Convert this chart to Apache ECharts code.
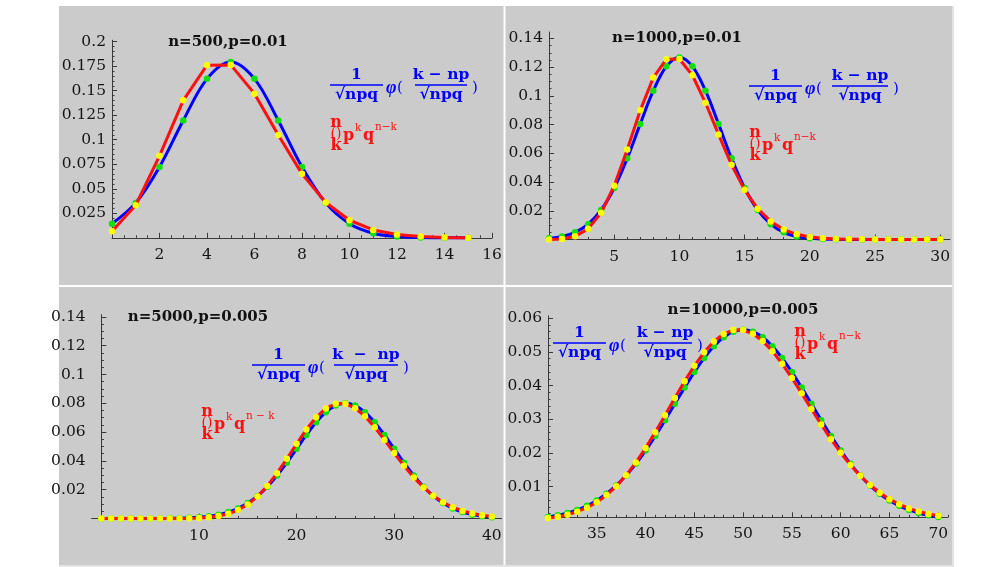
<!DOCTYPE html>
<html><head><meta charset="utf-8">
<script src="https://cdn.jsdelivr.net/npm/echarts@6/dist/echarts.min.js"></script>
<style>html,body{margin:0;padding:0;background:#fff}#c{width:1008px;height:567px}</style>
</head><body><div id="c"></div>
<script>
// ---------- DATA ----------
const titles = ['n=500,p=0.01', 'n=1000,p=0.01', 'n=5000,p=0.005', 'n=10000,p=0.005'];

// Panel 1: n=500, p=0.01
const k1 = [0,1,2,3,4,5,6,7,8,9,10,11,12,13,14,15];
const normal1 = [0.0144,0.0356,0.0723,0.1197,0.1621,0.1793,0.1621,0.1197,0.0723,0.0356,0.0144,0.0047,0.0013,0.0003,0.0001,0.0000];
const binom1 = [0.0066,0.0332,0.0836,0.1402,0.1760,0.1763,0.1470,0.1048,0.0652,0.0360,0.0179,0.0080,0.0033,0.0013,0.0004,0.0001];
const xTicks1 = [2,4,6,8,10,12,14,16];
const yTicks1 = [0.025,0.05,0.075,0.1,0.125,0.15,0.175,0.2];

// Panel 2: n=1000, p=0.01
const k2 = [0,1,2,3,4,5,6,7,8,9,10,11,12,13,14,15,16,17,18,19,20,21,22,23,24,25,26,27,28,29,30];
const normal2 = [0.0008,0.0021,0.0050,0.0107,0.0206,0.0359,0.0565,0.0805,0.1036,0.1206,0.1268,0.1206,0.1036,0.0805,0.0565,0.0359,0.0206,0.0107,0.0050,0.0021,0.0008,0.0003,0.0001,0,0,0,0,0,0,0,0];
const binom2 = [0.0000,0.0004,0.0022,0.0074,0.0186,0.0375,0.0627,0.0900,0.1128,0.1256,0.1257,0.1143,0.0952,0.0731,0.0520,0.0346,0.0215,0.0126,0.0069,0.0036,0.0018,0.0008,0.0004,0.0002,0.0001,0,0,0,0,0,0];
const xTicks2 = [5,10,15,20,25,30];
const yTicks2 = [0.02,0.04,0.06,0.08,0.1,0.12,0.14];

// Panel 3: n=5000, p=0.005
const k3 = [0,1,2,3,4,5,6,7,8,9,10,11,12,13,14,15,16,17,18,19,20,21,22,23,24,25,26,27,28,29,30,31,32,33,34,35,36,37,38,39,40];
const normal3 = [0,0,0,0.0000047,0.000011,0.000026,0.000056,0.000119,0.00024,0.000466,0.000869,0.001557,0.002678,0.004427,0.007027,0.01072,0.01570,0.02210,0.02987,0.03879,0.04839,0.05799,0.06675,0.07381,0.07840,0.07999,0.07840,0.07381,0.06675,0.05799,0.04839,0.03879,0.02987,0.02210,0.01570,0.01072,0.007027,0.004427,0.002678,0.001557,0.000869];
const binom3 = [0,0,0,0,0,0,0.0000045,0.0000163,0.0000511,0.000142,0.000357,0.000814,0.001701,0.003279,0.005869,0.009804,0.01535,0.02261,0.03146,0.04145,0.05187,0.06181,0.07030,0.07646,0.07968,0.0797,0.07663,0.07094,0.06332,0.05455,0.04542,0.03659,0.02855,0.02160,0.01586,0.01131,0.007836,0.005283,0.003467,0.002217,0.001382];
const xTicks3 = [10,20,30,40];
const yTicks3 = [0.02,0.04,0.06,0.08,0.1,0.12,0.14];

// Panel 4: n=10000, p=0.005
const k4 = [30,31,32,33,34,35,36,37,38,39,40,41,42,43,44,45,46,47,48,49,50,51,52,53,54,55,56,57,58,59,60,61,62,63,64,65,66,67,68,69,70];
const normal4 = [0.001015,0.001502,0.002180,0.003098,0.004316,0.005895,0.007888,0.010348,0.013305,0.016765,0.020703,0.025060,0.029728,0.034566,0.039391,0.043993,0.048160,0.051670,0.054333,0.055995,0.056561,0.055995,0.054333,0.051670,0.048160,0.043993,0.039391,0.034566,0.029728,0.025060,0.020703,0.016765,0.013305,0.010348,0.007888,0.005895,0.004316,0.003098,0.002180,0.001502,0.001015];
const binom4 = [0.000665,0.001074,0.001682,0.002553,0.003761,0.005382,0.007486,0.01013,0.01335,0.01713,0.02144,0.02617,0.03118,0.03628,0.04126,0.04587,0.04988,0.05309,0.05532,0.05646,0.05647,0.05536,0.05323,0.05021,0.04647,0.04223,0.03769,0.03304,0.02846,0.02410,0.02007,0.01643,0.01324,0.01049,0.008186,0.006288,0.004757,0.003544,0.002602,0.001882,0.001342];
const xTicks4 = [35,40,45,50,55,60,65,70];
const yTicks4 = [0.01,0.02,0.03,0.04,0.05,0.06];

// ---------- STYLE / LAYOUT ----------
const FONT = "'DejaVu Serif','Liberation Serif',serif";
const BLUE = '#0000ff', RED = '#ff1010', GREEN = '#10e010', YELLOW = '#ffff00';
const GRAY = '#cbcbcb', AXIS = '#3a3a3a';

function steps(a, b, s) { const r = []; for (let i = 0; a + i * s <= b + 1e-9; i++) r.push(+(a + i * s).toFixed(6)); return r; }

const panels = [
  { k: k1, normal: normal1, binom: binom1, xr: [0, 16], yr: [0, 0.2015], xt: xTicks1, yt: yTicks1, xm: 0.5, ym: 0.005,
    grid: { left: 112, top: 40.2, width: 380, height: 197.6 }, tpos: [228, 42],
    blue: { x: 330, y: 85, dx2: 85, w2: 52, num: 'k − np' }, red: { x: 330, y: 136, sup: 'n−k' } },
  { k: k2, normal: normal2, binom: binom2, xr: [0, 30.75], yr: [0, 0.1445], xt: xTicks2, yt: yTicks2, xm: 1, ym: 0.005,
    grid: { left: 549, top: 32, width: 401, height: 207.5 }, tpos: [677, 38],
    blue: { x: 749, y: 86, dx2: 83, w2: 56, num: 'k − np' }, red: { x: 749, y: 146, sup: 'n−k' } },
  { k: k3, normal: normal3, binom: binom3, xr: [-1, 41], yr: [0, 0.1415], xt: xTicks3, yt: yTicks3, xm: 2, ym: 0.005,
    grid: { left: 91.6, top: 314.7, width: 410, height: 203.8 }, tpos: [198, 317],
    blue: { x: 252, y: 365, dx2: 82, w2: 64, num: 'k  −  np' }, red: { x: 201, y: 425, sup: 'n − k' } },
  { k: k4, normal: normal4, binom: binom4, xr: [30, 71], yr: [0.0009, 0.0607], xt: xTicks4, yt: yTicks4, xm: 1, ym: 0.002,
    grid: { left: 548, top: 315.8, width: 400, height: 201.5 }, tpos: [743, 310],
    blue: { x: 553, y: 343, dx2: 85, w2: 54, num: 'k − np' }, red: { x: 794, y: 345, sup: 'n−k' } }
];

function txt(x, y, text, font, fill, align, valign, z) {
  return { type: 'text', x: x, y: y, z: z || 20,
    style: { text: text, font: font, fill: fill, align: align, verticalAlign: valign, textAlign: align, textVerticalAlign: valign } };
}
function blueFormula(f) {
  const w1 = 53, x = f.x, y = f.y, F = `bold 15.5px ${FONT}`;
  const x2 = x + f.dx2;
  return [
    { type: 'line', z: 20, shape: { x1: x, y1: y, x2: x + w1, y2: y }, style: { stroke: BLUE, lineWidth: 1.6 } },
    txt(x + w1 / 2, y - 2, '1', F, BLUE, 'center', 'bottom'),
    txt(x + w1 / 2, y + 2, '√npq', F, BLUE, 'center', 'top'),
    txt(x + w1 + 3, y + 3, 'φ', `italic bold 18px 'Liberation Serif',serif`, BLUE, 'left', 'middle'),
    txt(x + w1 + 14, y + 3, '(', `15px ${FONT}`, BLUE, 'left', 'middle'),
    { type: 'line', z: 20, shape: { x1: x2, y1: y, x2: x2 + f.w2, y2: y }, style: { stroke: BLUE, lineWidth: 1.6 } },
    txt(x2 + f.w2 / 2, y - 2, f.num, F, BLUE, 'center', 'bottom'),
    txt(x2 + f.w2 / 2, y + 2, '√npq', F, BLUE, 'center', 'top'),
    txt(x2 + f.w2 + 5, y + 3, ')', `15px ${FONT}`, BLUE, 'left', 'middle')
  ];
}
function redFormula(f) {
  const x = f.x, y = f.y, F = `bold 16px ${FONT}`, S = `10.5px ${FONT}`;
  return [
    txt(x + 6, y - 13, 'n', F, RED, 'center', 'middle'),
    txt(x + 6, y - 2, '()', `14px ${FONT}`, RED, 'center', 'middle'),
    txt(x + 6, y + 10, 'k', F, RED, 'center', 'middle'),
    txt(x + 13, y, 'p', F, RED, 'left', 'middle'),
    txt(x + 25, y - 8, 'k', S, RED, 'left', 'middle'),
    txt(x + 33, y, 'q', F, RED, 'left', 'middle'),
    txt(x + 45, y - 9, f.sup, S, RED, 'left', 'middle')
  ];
}

const grids = [], xAxes = [], yAxes = [], series = [];
const graphics = [
  { type: 'rect', z: -100, shape: { x: 59, y: 6, width: 893, height: 559 }, style: { fill: GRAY } },
  { type: 'rect', z: -90, shape: { x: 503.5, y: 6, width: 2, height: 559 }, style: { fill: '#ffffff' } },
  { type: 'rect', z: -90, shape: { x: 59, y: 285, width: 893, height: 2 }, style: { fill: '#ffffff' } },
  { type: 'rect', z: -90, shape: { x: 952, y: 6, width: 2, height: 560 }, style: { fill: '#e4e4e4' } },
  { type: 'rect', z: -90, shape: { x: 59, y: 565, width: 895, height: 2 }, style: { fill: '#e4e4e4' } }
];

panels.forEach((p, i) => {
  grids.push(Object.assign({ containLabel: false, outerBoundsMode: 'none' }, p.grid));
  const xMinorVals = steps(Math.ceil(p.xr[0] / p.xm) * p.xm, p.xr[1], p.xm);
  const yMinorVals = steps(Math.ceil(p.yr[0] / p.ym) * p.ym, p.yr[1], p.ym);
  const common = { type: 'value', gridIndex: i, splitLine: { show: false } };
  xAxes.push(Object.assign({}, common, {
    min: p.xr[0], max: p.xr[1], position: 'bottom',
    axisLine: { onZero: true, lineStyle: { color: AXIS, width: 1 } },
    axisTick: { inside: true, length: 5, customValues: p.xt, lineStyle: { color: AXIS } },
    axisLabel: { customValues: p.xt, fontFamily: FONT, fontSize: 15.5, color: '#151515', margin: 9 }
  }));
  xAxes.push(Object.assign({}, common, {
    min: p.xr[0], max: p.xr[1], position: 'bottom',
    axisLine: { show: false, onZero: true },
    axisTick: { inside: true, length: 2.5, customValues: xMinorVals, lineStyle: { color: AXIS } },
    axisLabel: { show: false }
  }));
  yAxes.push(Object.assign({}, common, {
    min: p.yr[0], max: p.yr[1], position: 'left',
    axisLine: { onZero: true, lineStyle: { color: AXIS, width: 1 } },
    axisTick: { inside: true, length: 5, customValues: p.yt, lineStyle: { color: AXIS } },
    axisLabel: { customValues: p.yt, fontFamily: FONT, fontSize: 15.5, color: '#151515', margin: 6 }
  }));
  yAxes.push(Object.assign({}, common, {
    min: p.yr[0], max: p.yr[1], position: 'left',
    axisLine: { show: false, onZero: true },
    axisTick: { inside: true, length: 2.5, customValues: yMinorVals, lineStyle: { color: AXIS } },
    axisLabel: { show: false }
  }));
  series.push({
    type: 'line', name: 'normal' + (i + 1), xAxisIndex: 2 * i, yAxisIndex: 2 * i,
    data: p.k.map((k, j) => [k, p.normal[j]]), smooth: 0.35, clip: false,
    symbol: 'circle', symbolSize: 6.5, showAllSymbol: true,
    lineStyle: { color: BLUE, width: 3 }, itemStyle: { color: GREEN, borderWidth: 0 }, z: 3
  });
  series.push({
    type: 'line', name: 'binom' + (i + 1), xAxisIndex: 2 * i, yAxisIndex: 2 * i,
    data: p.k.map((k, j) => [k, p.binom[j]]), smooth: false, clip: false,
    symbol: 'circle', symbolSize: 6.5, showAllSymbol: true,
    lineStyle: { color: RED, width: 3 }, itemStyle: { color: YELLOW, borderWidth: 0 }, z: 4
  });
  graphics.push(txt(p.tpos[0], p.tpos[1], titles[i], `bold 15px ${FONT}`, '#111', 'center', 'middle'));
  blueFormula(p.blue).forEach(g => graphics.push(g));
  redFormula(p.red).forEach(g => graphics.push(g));
});

const chart = echarts.init(document.getElementById('c'), null, { renderer: 'canvas', width: 1008, height: 567 });
chart.setOption({
  animation: false,
  backgroundColor: '#ffffff',
  grid: grids, xAxis: xAxes, yAxis: yAxes, series: series,
  graphic: { elements: graphics }
});
</script></body></html>
